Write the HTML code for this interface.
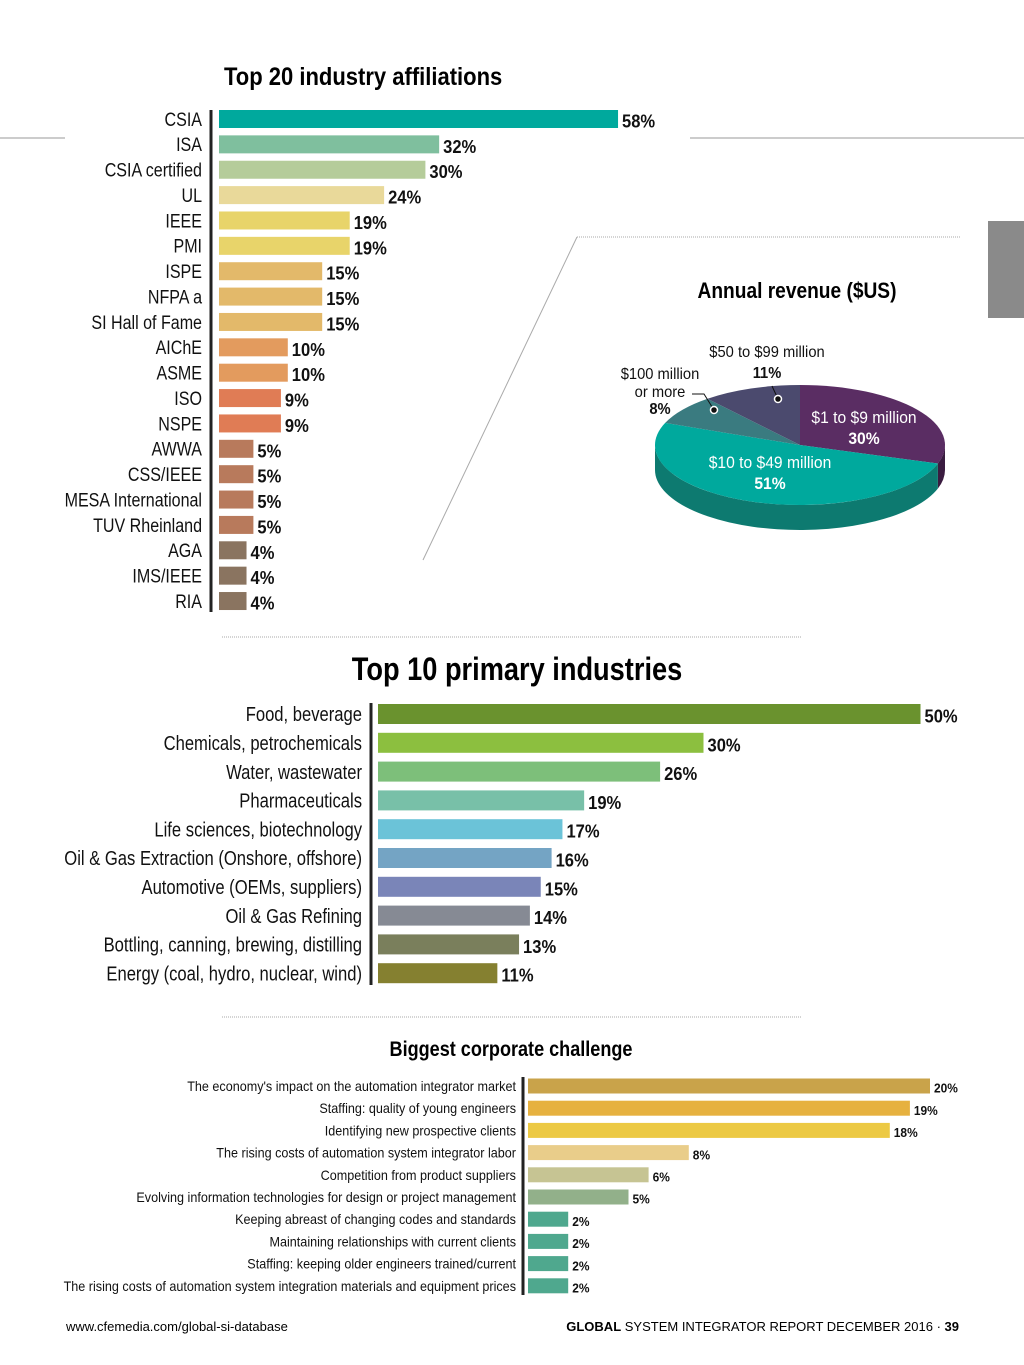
<!DOCTYPE html>
<html><head><meta charset="utf-8"><style>
html,body{margin:0;padding:0;background:#fff;}
svg{display:block;}
text{font-family:"Liberation Sans",sans-serif;}
.b{font-weight:bold;}
</style></head><body>
<svg id="s" width="1024" height="1365" viewBox="0 0 1024 1365" xmlns="http://www.w3.org/2000/svg">
<rect width="1024" height="1365" fill="#fff"/>
<line x1="0" y1="138" x2="65" y2="138" stroke="#999" stroke-width="1"/>
<line x1="690" y1="138" x2="1024" y2="138" stroke="#999" stroke-width="1"/>
<rect x="988" y="221" width="36" height="97" fill="#8a8a8a"/>
<line x1="577" y1="237" x2="960" y2="237" stroke="#aaa" stroke-dasharray="1,1"/>
<line x1="577" y1="237" x2="423" y2="560" stroke="#aaa" stroke-width="1"/>
<line x1="222" y1="637" x2="802" y2="637" stroke="#aaa" stroke-dasharray="1,1"/>
<line x1="222" y1="1017" x2="802" y2="1017" stroke="#aaa" stroke-dasharray="1,1"/>

<text x="224" y="85" font-size="25" class="b sq" data-sq="0.88">Top 20 industry affiliations</text>
<text x="517" y="680" font-size="32" class="b sq" data-sq="0.85" text-anchor="middle">Top 10 primary industries</text>
<text x="511" y="1056" font-size="21" class="b sq" data-sq="0.86" text-anchor="middle">Biggest corporate challenge</text>
<text x="797" y="298" font-size="22" class="b sq" data-sq="0.87" text-anchor="middle">Annual revenue ($US)</text>

<line x1="211" y1="110" x2="211" y2="612" stroke="#222" stroke-width="3"/>
<line x1="371" y1="703" x2="371" y2="985" stroke="#222" stroke-width="3"/>
<line x1="523" y1="1077" x2="523" y2="1295" stroke="#222" stroke-width="3"/>

<g id="c1"></g><g id="c2"></g><g id="c3"></g><g id="pie"></g>

<text x="66" y="1331" font-size="13">www.cfemedia.com/global-si-database</text>
<text x="959" y="1331" font-size="13" text-anchor="end"><tspan font-weight="bold">GLOBAL</tspan> SYSTEM INTEGRATOR REPORT  DECEMBER 2016 · <tspan font-weight="bold">39</tspan></text>
</svg>
<script>
const aff_labels=["CSIA","ISA","CSIA certified","UL","IEEE","PMI","ISPE","NFPA a","SI Hall of Fame","AIChE","ASME","ISO","NSPE","AWWA","CSS/IEEE","MESA International","TUV Rheinland","AGA","IMS/IEEE","RIA"];
const aff_values=[58,32,30,24,19,19,15,15,15,10,10,9,9,5,5,5,5,4,4,4];
const aff_colors=["#00a99d","#7fbf9e","#b5cc9a","#e9d99a","#e8d46a","#e8d46a","#e3b96a","#e3b96a","#e3b96a","#e39b5e","#e39b5e","#e07c55","#e07c55","#b87a5c","#b87a5c","#b87a5c","#b87a5c","#8a7460","#8a7460","#8a7460"];
const ind_labels=["Food, beverage","Chemicals, petrochemicals","Water, wastewater","Pharmaceuticals","Life sciences, biotechnology","Oil & Gas Extraction (Onshore, offshore)","Automotive (OEMs, suppliers)","Oil & Gas Refining","Bottling, canning, brewing, distilling","Energy (coal, hydro, nuclear, wind)"];
const ind_values=[50,30,26,19,17,16,15,14,13,11];
const ind_colors=["#6a922e","#8cbf3f","#7dbf7a","#78c0a8","#6bc3d8","#74a4c4","#7a85b8","#868a94","#7a7f5c","#858030"];
const ch_labels=["The economy's impact on the automation integrator market","Staffing: quality of young engineers","Identifying new prospective clients","The rising costs of automation system integrator labor","Competition from product suppliers","Evolving information technologies for design or project management","Keeping abreast of changing codes and standards","Maintaining relationships with current clients","Staffing: keeping older engineers trained/current","The rising costs of automation system integration materials and equipment prices"];
const ch_values=[20,19,18,8,6,5,2,2,2,2];
const ch_colors=["#c9a34a","#e6b13f","#ecc944","#e9cd8a","#c6c493","#92b08a","#4fa88e","#4fa88e","#4fa88e","#4fa88e"];
const pie_labels=["$1 to $9 million","$10 to $49 million","$100 million or more","$50 to $99 million"];
const pie_values=[30,51,8,11];
const pie_colors=["#5a2d63","#00a99d","#3a7b80","#4b4a6e"];
const pie_side=["#3a1c40","#0d7a70","#245a5e","#33324f"];

const NS="http://www.w3.org/2000/svg";
function mk(tag,attrs,parent,txt){const e=document.createElementNS(NS,tag);for(const k in attrs)e.setAttribute(k,attrs[k]);if(txt!==undefined)e.textContent=txt;parent.appendChild(e);return e;}

function barChart(gid,labels,values,colors,x0,scale,y0,step,bh,lfs,vfs,lx,prefix,sq){
  const g=document.getElementById(gid);
  const xs=v=>x0+v*scale, ys=i=>y0+i*step;
  labels.forEach((l,i)=>{
    const cy=ys(i);
    const t=mk('text',{x:lx,y:cy+lfs*0.36,'font-size':lfs,'text-anchor':'end',fill:'#111',class:'sq','data-sq':sq},g,l);
    
    
    const r=mk('rect',{x:x0,y:cy-bh/2,width:xs(values[i])-x0,height:bh,fill:colors[i]},g);
    
    
    const v=mk('text',{x:xs(values[i])+4,y:cy+vfs*0.36+2,'font-size':vfs,'font-weight':'bold',fill:'#111',class:'sq','data-sq':0.92},g,values[i]+'%');
    
    
  });
}
barChart('c1',aff_labels,aff_values,aff_colors,219,6.88,119,25.37,18,19,18,202,'affiliation',0.845);
barChart('c2',ind_labels,ind_values,ind_colors,378,10.85,714,28.8,20,20,18,362,'industry',0.83);
barChart('c3',ch_labels,ch_values,ch_colors,528,20.1,1086,22.2,15,14,13,516,'challenge',0.9);

const pg=document.getElementById('pie');
const cx=800,cy=445,rx=145,ry=60,dep=25;
const tot=pie_values.reduce((a,b)=>a+b,0);
const P=(a,dy)=>[cx+rx*Math.cos(a),cy+ry*Math.sin(a)+(dy||0)];
let a=-Math.PI/2;
const angs=pie_values.map(v=>{const s=a;a+=v/tot*2*Math.PI;return [s,a];});
angs.forEach(([s,e],i)=>{
  const s2=Math.max(s,0),e2=Math.min(e,Math.PI);
  if(e2<=s2)return;
  const p1=P(s2),p2=P(e2),p3=P(e2,dep),p4=P(s2,dep);
  const d=`M${p1}A${rx},${ry} 0 0 1 ${p2}L${p3}A${rx},${ry} 0 0 0 ${p4}Z`;
  const sd=mk('path',{d:d,fill:pie_side[i]},pg);
  
  
});
angs.forEach(([s,e],i)=>{
  const p1=P(s),p2=P(e),lg=(e-s)>Math.PI?1:0;
  const sl=mk('path',{d:`M${cx},${cy}L${p1}A${rx},${ry} 0 ${lg} 1 ${p2}Z`,fill:pie_colors[i]},pg);
  
  
});
function pt(x,y,fs,txt,fill,bold,anchor,name){const t=mk('text',{x:x,y:y,'font-size':fs,fill:fill,'text-anchor':anchor||'middle',class:'sq','data-sq':0.92},pg,txt);if(bold)t.setAttribute('font-weight','bold');}
pt(864,423,17,pie_labels[0],'#fff',false,'middle','pie-label');
pt(864,444,17,pie_values[0]+'%','#fff',true,'middle','pie-value');
pt(770,468,17,pie_labels[1],'#fff',false,'middle','pie-label');
pt(770,489,17,pie_values[1]+'%','#fff',true,'middle','pie-value');
pt(660,379,16,'$100 million','#111',false,'middle','pie-label');
pt(660,397,16,'or more','#111',false,'middle','pie-label');
pt(660,414,16,pie_values[2]+'%','#111',true,'middle','pie-value');
pt(767,357,16,pie_labels[3],'#111',false,'middle','pie-label');
pt(767,378,16,pie_values[3]+'%','#111',true,'middle','pie-value');
const l1=mk('path',{d:'M692,394 L704,394 L714,410',stroke:'#111',fill:'none','stroke-width':1},pg);

const l2=mk('path',{d:'M772,386 L778,399',stroke:'#111',fill:'none','stroke-width':1},pg);

[[714,410],[778,399]].forEach(([x,y])=>{const c=mk('circle',{cx:x,cy:y,r:3.5,fill:'#111',stroke:'#fff','stroke-width':1.5},pg);});

document.querySelectorAll('text.sq').forEach(t=>{
  const f=parseFloat(t.getAttribute('data-sq'))||1;
  const w=t.getComputedTextLength();
  t.setAttribute('textLength',(w*f).toFixed(1));
  t.setAttribute('lengthAdjust','spacingAndGlyphs');
});
</script>
</body></html>
